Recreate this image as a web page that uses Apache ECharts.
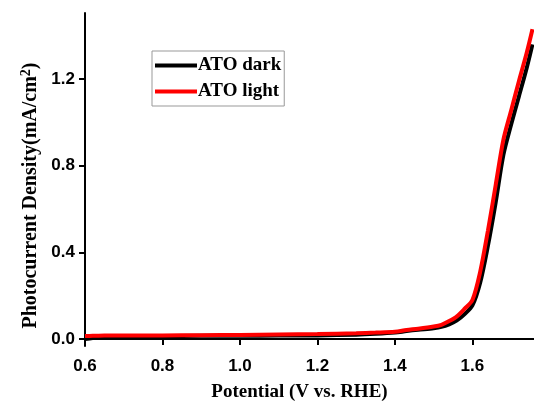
<!DOCTYPE html>
<html>
<head>
<meta charset="utf-8">
<script src="https://cdn.jsdelivr.net/npm/echarts@6/dist/echarts.min.js"></script>
<style>
  html, body { margin: 0; padding: 0; background: #fff; }
  #chart { width: 534px; height: 403px; }
</style>
</head>
<body>
<div id="chart"></div>
<script>
// 电位 (V vs. RHE)
var potential = [0.60, 0.62, 0.65, 0.70, 0.80, 0.90, 1.00, 1.10, 1.20, 1.30, 1.35, 1.40, 1.43, 1.46, 1.50, 1.52, 1.54, 1.56, 1.58, 1.60, 1.62, 1.64, 1.66, 1.68, 1.70, 1.72, 1.74, 1.755]
var atoDark = [0.000, 0.005, 0.010, 0.013, 0.014, 0.015, 0.015, 0.016, 0.017, 0.020, 0.024, 0.030, 0.037, 0.043, 0.050, 0.056, 0.068, 0.086, 0.115, 0.155, 0.260, 0.430, 0.630, 0.850, 0.990, 1.120, 1.250, 1.360]
var atoLight = [0.014, 0.015, 0.016, 0.017, 0.017, 0.018, 0.019, 0.021, 0.023, 0.027, 0.030, 0.034, 0.042, 0.048, 0.058, 0.066, 0.083, 0.105, 0.140, 0.180, 0.310, 0.500, 0.710, 0.920, 1.055, 1.190, 1.320, 1.430]
var xTicks = [0.6, 0.8, 1.0, 1.2, 1.4, 1.6]
var yTicks = [0.0, 0.4, 0.8, 1.2]

function pairs (xs, ys) {
  return xs.map(function (x, i) { return [x, ys[i]] })
}

var chart = echarts.init(document.getElementById('chart'))
var tickFont = { color: '#000', fontFamily: 'Liberation Sans', fontWeight: 'bold', fontSize: 17 }
chart.setOption({
  animation: false,
  grid: { left: 85, right: 0, top: 13, bottom: 57, outerBoundsMode: 'none', containLabel: false },
  legend: {
    left: 152,
    top: 51,
    orient: 'vertical',
    icon: 'rect',
    itemWidth: 42,
    itemHeight: 4,
    itemGap: 7,
    padding: [5, 3, 5, 3],
    borderColor: '#999',
    borderWidth: 1,
    textStyle: { color: '#000', fontFamily: 'Liberation Serif', fontWeight: 'bold', fontSize: 19, padding: [0, 0, 0, -4] },
    data: ['ATO dark', 'ATO light']
  },
  xAxis: {
    type: 'value',
    min: 0.6,
    max: 1.759,
    name: 'Potential (V vs. RHE)',
    nameLocation: 'middle',
    nameGap: 37,
    nameTextStyle: { color: '#000', fontFamily: 'Liberation Serif', fontWeight: 'bold', fontSize: 19, padding: [0, 20, 0, 0] },
    axisLine: { lineStyle: { color: '#000', width: 2 } },
    axisTick: { customValues: xTicks, length: 6, lineStyle: { color: '#000', width: 2 } },
    axisLabel: Object.assign({ customValues: xTicks, margin: 12, formatter: function (v) { return v.toFixed(1) } }, tickFont),
    splitLine: { show: false }
  },
  yAxis: {
    type: 'value',
    min: -0.032,
    max: 1.505,
    name: '{t|Photocurrent Density(mA/cm}{s|2}{t|)}',
    nameLocation: 'middle',
    nameGap: 40,
    nameTextStyle: {
      padding: [0, 0, 0, -32],
      rich: {
        t: { color: '#000', fontFamily: 'Liberation Serif', fontWeight: 'bold', fontSize: 20 },
        s: { color: '#000', fontFamily: 'Liberation Serif', fontWeight: 'bold', fontSize: 14, verticalAlign: 'top', padding: [0, 0, 9, 0] }
      }
    },
    axisLine: { show: true, lineStyle: { color: '#000', width: 2 } },
    axisTick: { show: true, customValues: yTicks, length: 6, lineStyle: { color: '#000', width: 2 } },
    axisLabel: Object.assign({ customValues: yTicks, margin: 10, formatter: function (v) { return v.toFixed(1) } }, tickFont),
    splitLine: { show: false }
  },
  series: [
    {
      name: 'ATO dark',
      type: 'line',
      data: pairs(potential, atoDark),
      symbol: 'none',
      smooth: 0.3,
      color: '#000',
      lineStyle: { color: '#000', width: 4 }
    },
    {
      name: 'ATO light',
      type: 'line',
      data: pairs(potential, atoLight),
      symbol: 'none',
      smooth: 0.3,
      color: '#f00',
      lineStyle: { color: '#f00', width: 4 }
    }
  ]
})
</script>
</body>
</html>
